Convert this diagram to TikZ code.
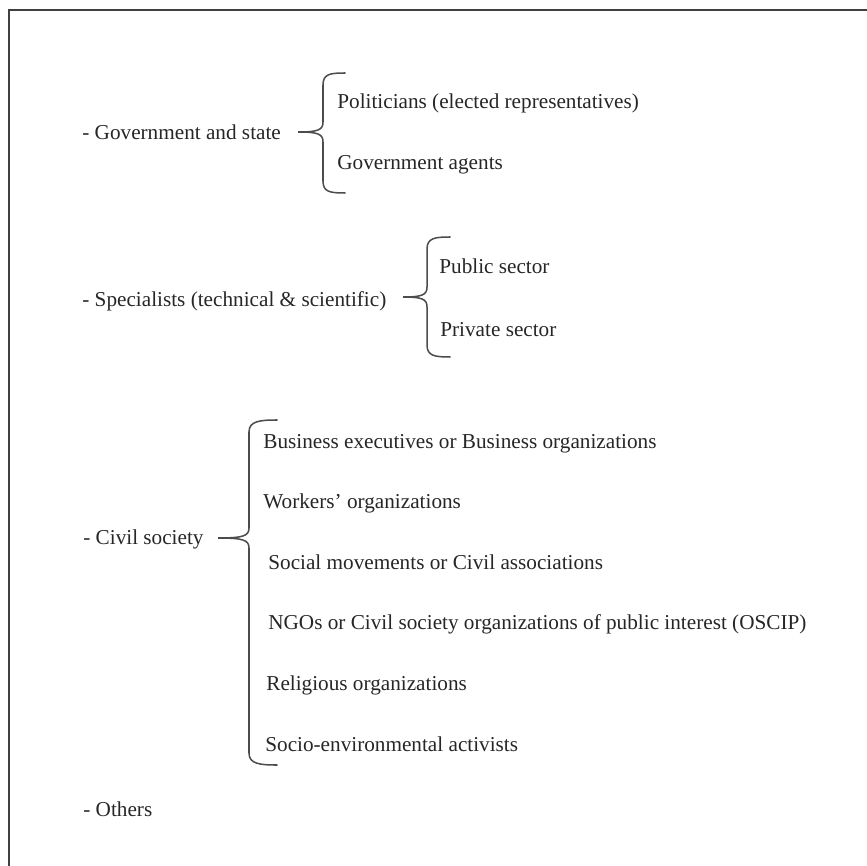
\documentclass[tikz,border=0pt]{standalone}
\usepackage{fontspec}
\setmainfont{Liberation Serif}
\usetikzlibrary{positioning}

\begin{document}
\begin{tikzpicture}[
  x=0.561pt, y=-0.561pt,
  item/.style={anchor=west,inner sep=0pt,text height=9pt,text depth=2pt,
    font=\fontsize{11.9}{14}\selectfont,text=black!85},
  bracestyle/.style={draw=black!70,line width=0.85pt,line cap=round}
]
\useasboundingbox (0,0) rectangle (867,866);
\draw[black!75,line width=1.3pt] (9,866) -- (9,10) -- (867,10);

% groups
\node[item] (gov) at (82,133) {- Government and state};
\node[item] (politicians) at (337,102) {Politicians (elected representatives)};
\node[item] (agents) at (337,163) {Government agents};

\node[item] (spec) at (82,300) {- Specialists (technical \& scientific)};
\node[item] (public) at (439,267) {Public sector};
\node[item] (private) at (440,330) {Private sector};

\node[item] (civil) at (83,538) {- Civil society};
\node[item] (business) at (263,442) {Business executives or Business organizations};
\node[item] (workers) at (263,502) {Workers’ organizations};
\node[item] (social) at (268,563) {Social movements or Civil associations};
\node[item] (ngos) at (268,623) {NGOs or Civil society organizations of public interest (OSCIP)};
\node[item] (religious) at (266,684) {Religious organizations};
\node[item] (activists) at (265,745) {Socio-environmental activists};

\node[item] (others) at (83,810) {- Others};

% braces
\draw[bracestyle] (345,73) .. controls (330,73) and (323,74) .. (323,85)
  -- (323,122) .. controls (323,130) and (318,132) .. (298,132)
  .. controls (318,132) and (323,134) .. (323,142)
  -- (323,181) .. controls (323,192) and (330,193) .. (345,193);
\draw[bracestyle] (450,237) .. controls (435,237) and (427,238) .. (427,249)
  -- (427,287) .. controls (427,295) and (422,297) .. (403,297)
  .. controls (422,297) and (427,299) .. (427,307)
  -- (427,345) .. controls (427,356) and (435,357) .. (450,357);
\draw[bracestyle] (277,420) .. controls (260,420) and (249,421) .. (249,432)
  -- (249,528) .. controls (249,536) and (243,538) .. (218,538)
  .. controls (243,538) and (249,540) .. (249,548)
  -- (249,753) .. controls (249,764) and (260,765) .. (277,765);
\end{tikzpicture}
\end{document}
